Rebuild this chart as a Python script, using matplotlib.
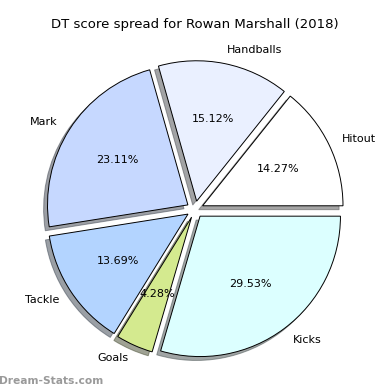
import matplotlib
matplotlib.use("Agg")
from matplotlib import pyplot as plt

labels = ["Hitout", "Handballs", "Mark", "Tackle", "Goals", "Kicks"]
values = [14.27, 15.12, 23.11, 13.69, 4.28, 29.53]
colors = ["#ffffff", "#eaf0ff", "#c6d8ff", "#b3d4ff", "#d4ea8f", "#dcffff"]
explode = [0.06] * len(values)

fig = plt.figure(figsize=(3.9, 3.9), dpi=100)
ax = fig.add_axes([0.04, 0.013, 0.92, 0.90])
ax.pie(values, labels=labels, colors=colors, explode=explode,
       autopct="%1.2f%%", shadow=True, startangle=0,
       wedgeprops={"edgecolor": "black", "linewidth": 0.7},
       textprops={"fontsize": 8})
ax.set_aspect("equal")
fig.text(0.5, 0.936, "DT score spread for Rowan Marshall (2018)",
         fontsize=9.5, ha="center", va="center")

# watermark
fig.text(-0.003, 0.01, "Dream-Stats.com", color="#9a9a9a", fontsize=7.7,
         fontweight="bold", ha="left", va="bottom")

fig.savefig("out.png", dpi=100)
